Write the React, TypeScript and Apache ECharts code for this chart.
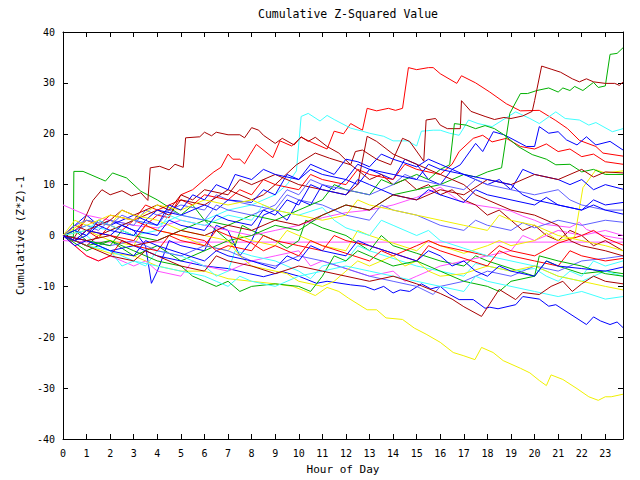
import React, { useEffect, useRef } from "react";
import * as echarts from "echarts";

const TITLE = "Cumulative Z-Squared Value";
const X_NAME = "Hour of Day";
const Y_NAME = "Cumulative (Z*Z)-1";

const RED = "#ff0000";
const GREEN = "#00b000";
const BLUE = "#0000ff";
const MAGENTA = "#ff50ff";
const CYAN = "#40ffff";
const DARKRED = "#a80000";
const YELLOW = "#f0f000";
const LIGHTBLUE = "#6060ff";

const redTop = [[0,0],[0.5,-1],[1,1],[1.5,-0.5],[2,2],[2.5,1],[3,3],[3.5,2],[4,4],[4.5,3.5],[5,8],[5.5,9],[6,11],[6.4,12.5],[6.7,13.4],[7.0,16],[7.2,15],[7.5,15],[7.7,14.1],[7.93,15.9],[8.2,17.9],[8.9,15.3],[9.2,18.6],[9.7,17.6],[10.1,19.3],[10.6,18.2],[11.2,17],[11.5,20.5],[11.9,20],[12.2,22],[12.7,20.7],[12.9,25],[13.3,24.5],[13.8,25],[14.1,24.6],[14.4,25],[14.65,33],[15.0,32.6],[15.5,33],[15.7,33],[16.0,31.8],[16.7,29.9],[16.9,31.4],[17.5,30],[18.1,28.2],[18.8,25.9],[19.4,24.5],[20.2,24.6],[20.9,22.6],[21.4,21],[21.9,18.7],[22.6,17.5],[22.9,16.2],[23.75,15.6]];
const darkRed1 = [[0,0],[0.4,-1],[0.8,2],[1.27,6.9],[1.65,9],[2,8],[2.5,8.8],[2.9,7.8],[3.3,8.4],[3.6,6.9],[3.7,13.3],[4.1,13.6],[4.5,12.9],[4.75,14],[5.1,13.4],[5.2,19.2],[5.8,19.4],[6.0,20.3],[6.3,19.6],[6.5,20.3],[7.0,19.8],[7.5,19.8],[7.7,19.2],[8.0,21.2],[8.3,20.7],[8.5,19.7],[9.0,18.1],[9.3,19.1],[9.8,17.8],[10.1,19.4],[10.4,18.5],[10.7,19.3],[11.2,17.5],[11.7,16.2],[12.2,13.9],[12.6,12.5],[13,11],[13.5,12],[14,10],[14.5,11],[15,9],[15.5,10],[16,8],[16.5,9],[17,7],[17.5,6],[18,4],[18.5,5],[19,3],[19.5,1],[20,2],[20.5,0],[21,-1],[21.5,1],[22,0],[22.5,-2],[23,-1],[23.75,-3]];
const darkRed2 = [[0,0],[0.5,-1],[1,-2],[1.5,0],[2,1],[3,3],[4,5],[4.5,4],[5,7],[6,6],[7,9],[8,7],[8.5,8],[9,10],[9.9,13.9],[10.7,16.2],[11.3,15.2],[12.2,13.9],[12.4,16.5],[12.7,16.8],[13.3,15],[13.9,13.9],[14.4,19.1],[14.7,18.5],[15.3,14.6],[15.4,22.7],[15.8,23],[16.0,21.7],[16.3,21],[16.85,21],[16.9,26.5],[17.3,24.4],[17.9,23.4],[18.3,22.8],[18.7,23.2],[19.0,23],[19.5,23.5],[19.9,24.4],[20.0,26.5],[20.3,33.3],[20.7,32.7],[21.1,32.1],[21.6,30.8],[21.9,30.2],[22.2,30.8],[22.5,30.2],[23,29.9],[23.4,29.9],[23.6,29.5],[23.75,30.2]];
const green2 = [[0,0],[1,-3],[2,-1],[3,-4],[4,-2],[5,-5],[6,-3],[7,-1],[8,0],[9,2],[10,1],[11,4],[12,6],[13,5],[14,8],[15,9],[16,10],[17,12],[17.5,11.5],[18,12.5],[18.6,13.3],[18.95,24],[19.4,27.9],[19.7,27.9],[20.1,28.5],[20.6,29],[21,28.2],[21.2,29],[21.5,28.5],[21.7,29.3],[22.05,28.5],[22.5,30.1],[22.7,29.1],[23.0,29.4],[23.2,35.6],[23.5,35.8],[23.75,36.9]];
const green3 = [[0,0],[0.5,1],[1,-1],[2,-2],[2.5,1],[3,0],[4,-1],[5,1],[6,3],[7,2],[8,4],[9,3],[10,5],[11,7],[11.5,10],[12,9],[13,8],[13.5,11],[14,10],[15,12],[15.5,11],[16,13],[16.4,13.9],[16.6,22],[17.1,21.7],[17.5,21],[17.9,21.6],[18.3,21],[18.7,19.8],[19.3,17.5],[19.9,15.9],[20.5,15],[20.9,13.9],[21.5,14],[22,12.5],[22.5,13],[23,12],[23.75,12]];
const green1 = [[0,0],[0.44,-0.3],[0.46,12.6],[0.85,12.6],[1.6,11.1],[1.8,10.7],[2.1,12.3],[2.7,11.3],[3.3,8.7],[4,7],[4.5,5.5],[5,4],[5.5,6],[6,3],[6.5,1],[7,-1],[7.3,-2],[7.6,2],[8,1],[9,-1],[9.5,-2.5],[10,-1],[10.3,3],[11,1.5],[12,0],[12.5,-1.5],[13,-3],[13.5,0],[14,-2],[15,-3.5],[16,-5],[17,-6],[17.5,-4],[18,-5],[19,-6.5],[20,-8],[20.5,-5],[21,-6],[22,-7.5],[23,-7],[23.75,-7.5]];
const green4 = [[0,0],[0.5,-1],[1,-2],[2,-1],[3,-3],[4,-5],[5,-6],[5.5,-8],[6,-9],[6.5,-10],[7,-9],[7.5,-11],[8,-10],[9,-9.5],[10,-10],[10.5,-11],[11,-8],[11.5,-4],[12,-5],[12.5,-3],[13,-4],[14,-6],[15,-5],[16,-7],[17,-9],[18,-10],[18.5,-11],[19,-9],[20,-8],[20.2,-4],[21,-5],[22,-6],[23,-7.5],[23.75,-8]];
const yellowBottom = [[0,0],[1,-2],[2,-3.5],[3,-4],[4,-6],[5,-7],[6,-7],[7,-8.5],[8,-9],[9,-9.5],[9.75,-10],[10.2,-10.8],[10.7,-11.8],[11.2,-10.2],[11.7,-11],[12.1,-12.3],[12.9,-14.6],[13.3,-14.6],[13.7,-16.2],[14.4,-16.5],[14.9,-18.2],[15.4,-19.4],[16.0,-21],[16.55,-23],[16.97,-23.6],[17.47,-24.4],[17.75,-22],[18.24,-23],[18.67,-24.6],[19.4,-26.1],[19.8,-27],[20.2,-28.5],[20.5,-29.5],[20.7,-27.4],[21.2,-28.3],[21.8,-30.1],[22.3,-31.7],[22.7,-32.4],[23.0,-31.7],[23.25,-31.7],[23.75,-31.2]];
const yellowRight = [[0,0],[1,1],[2,-1],[3,-2],[3.5,2],[4,1],[5,0],[6,-2],[7,-3],[7.5,0],[8,-1],[9,-2],[9.5,1],[10,0],[11,-2],[12,-3],[12.5,1],[13,0],[14,-1.5],[15,-3],[15.5,-1],[16,-2],[17,-3.5],[18,-2],[18.5,-1],[19,-2],[20,-1],[20.5,0.5],[21,-1],[21.7,-0.3],[22.05,9.4],[22.6,12.9],[23.0,12.3],[23.75,12.7]];
const yellowMid = [[0,0],[0.5,1.5],[1,3],[2,2],[2.5,5],[3,4],[4,3],[5,1],[6,0],[7,-1],[7.5,-4],[8,-6],[9,-7],[9.5,-7.5],[10,-9],[11,-10],[11.5,-9],[12,-7],[12.5,-5],[13,-6],[14,-4],[14.5,-6],[15,-5],[15.5,-7],[16,-8],[17,-7.5],[18,-6],[19,-7],[20,-6],[21,-8],[22,-9],[23,-10],[23.75,-10.7]];
const yellow4 = [[0,0],[0.5,3],[1,2],[2,4],[3,3],[4,6],[5,5],[6,7],[7,6],[8,7],[8.5,6],[9,5],[10,4],[11,3],[12,4],[12.5,7],[13,6],[14,5],[15,4],[16,3],[17,2],[18,1],[18.5,4],[19,3],[20,2],[21,0],[22,-1],[23,-2],[23.75,-3]];
const cyanTop = [[0,0],[1,2],[2,1],[3,3],[4,2],[5,4],[6,3],[7,5],[8,6],[9,8],[9.5,10],[9.9,12.7],[10.1,23.4],[10.4,24],[10.9,22.5],[11.2,23.6],[11.5,22.8],[12.2,21.1],[12.7,20.5],[13.0,20.1],[13.6,19.5],[14.0,18.6],[14.6,18.6],[15.0,17.6],[15.2,20.5],[15.7,20.7],[16.0,20.7],[16.4,20.1],[16.8,19.7],[17.2,22.7],[17.6,22],[18.2,21.4],[19.2,24.3],[19.8,23],[20.2,22],[20.9,24.3],[21.3,23],[21.9,22.7],[22.3,21.7],[22.6,22.2],[23.3,20.4],[23.75,21]];
const cyan2 = [[0,0],[0.5,1],[1,0],[1.5,-2],[2,-3],[3,-5],[3.5,-6],[4,-3],[5,-4],[6,-6],[6.5,-8],[7,-7],[7.3,-3],[8,-4],[9,-5],[10,-7],[10.5,-8.5],[11,-6],[12,-5],[12.5,-2],[13,-3],[14,-4.5],[15,-6],[16,-7],[17,-8],[17.5,-5.5],[18,-6],[19,-7],[20,-6.5],[20.5,-8],[21,-9],[21.5,-7],[22,-8],[22.5,-5],[23,-6],[23.75,-5]];
const cyan3 = [[0,0],[1,1],[1.5,3],[2,2],[3,0],[4,1],[4.5,4],[5,3],[6,2],[7,4],[8,3],[8.5,6],[9,5],[10,4],[11,5.5],[11.5,3],[12,1.5],[13,0],[13.5,3],[14,2],[15,0],[15.5,1],[16,-1],[17,-2.5],[18,-4],[19,-5],[20,-6],[21,-8],[22,-9],[23,-7],[23.75,-8]];
const cyan4 = [[0,0],[0.5,-1],[1,-2],[2,-3],[2.5,-6],[3,-5],[4,-6],[5,-7],[6,-8],[6.5,-9],[7,-10],[7.5,-8],[8,-9],[9,-10],[9.5,-9],[10,-8],[11,-7],[12,-6],[13,-7],[14,-8],[15,-9],[16,-10],[17,-11],[17.5,-8],[18,-9],[19,-10],[20,-11],[21,-12],[22,-11],[23,-12.5],[23.75,-12]];
const blueUp = [[0,0],[0.5,2],[1,4],[1.5,2],[2,3],[3,1],[3.5,-2],[3.75,-9.4],[4,-7],[4.5,-1],[5,-2],[6,-3],[6.5,2],[7,1],[7.5,-4],[8,-1],[8.5,4],[9,5],[9.5,3],[10,7],[10.5,6],[11,10],[11.5,9],[12,11],[12.5,10],[13,13],[13.5,12],[14,11],[14.5,15],[15,14],[15.5,11],[16,10],[16.5,13],[16.85,13.9],[17.5,18.1],[17.8,16.5],[18.25,20.4],[18.7,19.8],[19.0,19.1],[19.65,17.5],[20.0,17.5],[20.2,21.4],[20.6,20.1],[21.0,20.4],[21.35,18.8],[21.8,17.8],[22.2,19.4],[22.6,17.8],[23.2,18.5],[23.75,16.8]];
const blueBottom = [[0,0],[1,-1],[2,-3],[3,-2],[4,-4],[5,-5],[6,-6],[7,-6.5],[7.9,-7.5],[8.5,-8.1],[9.3,-7.1],[10,-8],[10.75,-9.4],[11.2,-9],[12.2,-9.7],[12.8,-10],[13.2,-10.7],[13.6,-10],[14.0,-11.3],[14.3,-10.7],[14.7,-11],[15.2,-9.5],[15.6,-10.5],[16,-10],[16.4,-11.6],[16.8,-12.6],[17.4,-12.6],[17.9,-14.3],[18.1,-14.1],[18.45,-14.4],[19.2,-13.6],[19.5,-12],[20.2,-12.5],[20.6,-13.9],[20.9,-13.6],[22.2,-17.5],[22.5,-16],[22.8,-16.8],[23.2,-17.5],[23.5,-17],[23.75,-18.1]];
const blue4 = [[0,0],[0.5,1],[1,0],[1.5,3],[2,2],[3,4],[3.5,3],[4,5],[5,4],[6,6],[6.5,5],[7,7],[8,6.5],[8.5,9],[9,8],[9.5,12],[10,11],[10.5,14],[11,13],[11.5,12],[12,15],[12.5,14.5],[13,13.5],[13.5,16],[14,15],[15,13.5],[15.5,15],[16,14],[17,12],[18,10],[18.5,11],[19,9],[19.5,13],[20,12],[21,11],[21.5,10],[22,11],[22.5,9],[23,10],[23.75,9.1]];
const blue5 = [[0,0],[0.5,-1],[1,1],[2,0],[2.5,2],[3,1],[4,0],[4.5,3],[5,2],[6,1],[6.5,4],[7,3],[8,2],[8.5,5],[9,4],[9.5,7],[10,6],[10.5,10],[11,9],[12,8],[12.5,11],[13,10],[14,8],[15,7],[15.5,9],[16,8],[17,6.5],[17.5,9],[18,8],[19,7],[20,6],[20.5,7.5],[21,6],[22,5],[22.5,6],[23,5],[23.75,4.2]];
const blue6 = [[0,0],[0.5,-2],[1,-1],[2,-3],[3,-4],[3.5,-1],[4,-2],[5,-3.5],[6,-5],[6.5,-3],[7,-4],[8,-5],[9,-6.5],[9.5,-4],[10,-5],[10.5,-2],[11,-3],[12,-4],[12.5,-1],[13,-2],[14,-3.5],[15,-5],[15.5,-3],[16,-4],[16.5,-6],[17,-5],[17.5,-7],[18,-8],[18.5,-6],[19,-7],[20,-8],[20.5,-5],[21,-6],[22,-6.5],[23,-7],[23.75,-6.2]];
const blue7 = [[0,0],[0.5,-1],[1,0],[1.5,2],[2,1],[3,0],[3.5,3],[4,2],[4.5,6],[5,5],[5.5,8],[6,7],[6.5,10],[7,9],[7.3,12],[8,11],[8.5,13],[9,12],[10,11],[10.5,13],[11,12],[12,11],[12.5,14],[13,13],[14,12],[15,11],[15.5,14],[16,13],[17,12],[18,11],[19,10],[19.5,8],[20,7],[21,6],[22,5],[22.5,7],[23,6],[23.75,6.5]];
const lightBlue1 = [[0,0],[0.5,1],[1,2],[1.5,1],[2,3],[3,2],[3.5,5],[4,4],[5,6],[6,5],[6.5,8],[7,7],[8,6],[9,5],[9.5,8],[10,7],[11,6],[12,4],[13,3],[13.5,6],[14,5],[15,4],[16,2],[17,1],[17.5,3],[18,2],[19,1],[19.5,2.5],[20,1.5],[21,3],[22,2],[23,3],[23.75,2.6]];
const lightBlue2 = [[0,0],[1,-1],[2,-2],[3,-1],[4,-3],[5,-4],[6,-2],[7,-3],[8,-5],[9,-6],[10,-4],[11,-5],[12,-6.5],[13,-8],[14,-9],[15,-10],[15.7,-11.6],[16,-10],[17,-9],[18,-7],[19,-8],[20,-6],[21,-7],[22,-5],[23,-4.5],[23.75,-4]];
const lightBlue3 = [[0,0],[0.5,2],[1,3],[2,2],[2.5,4],[3,3],[4,2],[4.5,5],[5,4],[6,3],[6.5,6],[7,5],[8,4],[9,6],[9.5,9],[10,8],[10.5,11],[11,10],[12,9],[13,8],[14,10],[14.5,12],[15,11],[16,10],[17,9],[17.5,11],[18,10],[19,9],[20,8],[21,9],[21.5,7],[22,6],[23,5],[23.75,5]];
const magentaHigh = [[0,6],[0.5,5],[1,4],[2,3],[3,2],[4,1.5],[5,3],[6,2],[7,1],[8,0],[9,1],[10,2],[11,3.5],[12,4.5],[13,5],[14,6],[15,7.5],[16,9.5],[16.8,6.8],[17.5,6],[18.5,5.3],[19,4.8],[19.5,3.8],[20,3],[20.4,2.2],[21.5,1.6],[21.9,2.6],[22.2,1.2],[22.9,0],[23.75,-0.7]];
const magentaFlat = [[0,-1],[1.2,-1.3],[23.75,-1.3]];
const magenta3 = [[0,0],[0.5,-2],[1,-4],[1.5,-5],[2,-4],[3,-6],[3.5,-5],[4,-7],[5,-8],[5.5,-5],[6,-6],[7,-7],[8,-5],[9,-4],[10,-3],[10.5,-6],[11,-5],[12,-6.5],[13,-8],[14,-7],[14.5,-9],[15,-8],[16,-6],[17,-5],[18,-4],[19,-3],[19.5,0],[20,-1],[21,1],[22,0],[23,1],[23.75,0]];
const red3 = [[0,0],[0.5,-2],[1,-4],[1.5,-5],[2,-4],[2.5,-1],[3,-2],[4,-3],[4.5,0],[5,-1],[6,-2],[6.5,1],[7,0],[8,-1.5],[8.5,-3],[9,-2],[10,-4],[10.5,-1],[11,-2],[12,-3.5],[13,-5],[13.5,-3],[14,-4],[15,-2],[15.5,-1],[16,-2],[17,-3],[18,-4],[18.5,-2],[19,-3],[20,-4],[21,-1.5],[22,0],[22.5,1],[23,-0.5],[23.75,-1.9]];
const redMid = [[0,0],[0.5,1],[1,3],[1.5,2],[2,4],[3,3],[3.5,6],[4,5],[5,7],[5.5,6],[6,8],[7,7],[7.5,9],[8,8],[8.5,11],[9,10],[10,9],[10.5,12],[11,11],[12,10],[12.5,13],[13,12],[14,11],[14.5,14],[15,13],[16,12],[16.5,14],[16.8,16.5],[17.4,19.1],[17.8,19.7],[18.2,18.4],[18.8,19.1],[19.4,17.5],[20,17],[20.5,18],[21,16.5],[21.5,17],[22,15.5],[22.5,16],[23,14.5],[23.75,14]];
const red4 = [[0,0],[0.5,-1],[1,1],[2,0],[3,-1],[3.5,2],[4,1],[5,0],[6,-1],[6.5,-3],[7,-2],[8,-3],[8.5,0],[9,-1],[10,-2],[11,-3],[11.5,0],[12,-1],[13,-2],[14,-3.5],[15,-5],[15.5,-2],[16,-3],[17,-4.5],[18,-6],[18.5,-3],[19,-4],[20,-5],[21,-6],[21.5,-3],[22,-4],[23,-5],[23.75,-4.5]];
const darkRed3 = [[0,0],[0.5,2],[1,1],[2,3],[2.5,5],[3,4],[4,6],[4.5,5],[5,8],[5.5,7],[6,9],[7,8],[7.5,11],[8,10],[9,12],[9.5,11],[10,10],[11,9],[12,8],[12.5,10],[12.9,19.5],[13.3,18.5],[14,16],[15,14],[16,12],[17,10],[17.5,8],[18,7],[19,5],[20,4],[21,2],[21.5,-1],[22,-2],[23,-3],[23.75,-4]];
const darkRed4 = [[0,0],[0.5,-1],[1,-2],[2,-4],[3,-5],[3.5,-3],[4,-4],[5,-6],[6,-7],[6.5,-4],[7,-5],[8,-6],[9,-7.5],[10,-6],[11,-7],[12,-8],[13,-9],[14,-8],[15,-9.5],[16,-11.4],[16.5,-12.5],[17,-14],[17.75,-15.9],[18.5,-10.6],[19.2,-12.6],[19.5,-11.2],[20.2,-11.6],[20.7,-10],[21.2,-9],[21.6,-11],[22,-9.5],[22.5,-8],[23,-9],[23.75,-9.5]];
const darkRed5 = [[0,0],[1,-1],[2,0],[3,-2],[4,-1],[5,1],[6,0],[7,2],[8,1],[9,3],[10,2],[11,4],[12,6],[13,5],[14,8],[15,7],[16,9],[17,8],[18,11],[19,10],[20,12],[21,11],[22,13],[22.5,11.5],[23,12.5],[23.75,12.3]];

const SERIES: [any[], string][] = [
  [magentaFlat, MAGENTA],
  [redTop, RED], [green1, GREEN], [blueUp, BLUE], [magentaHigh, MAGENTA], [cyanTop, CYAN], [darkRed1, DARKRED], [yellowBottom, YELLOW], [lightBlue1, LIGHTBLUE],
  [redMid, RED], [green2, GREEN], [blueBottom, BLUE], [magenta3, MAGENTA], [cyan2, CYAN], [darkRed2, DARKRED], [yellowRight, YELLOW], [lightBlue2, LIGHTBLUE],
  [red3, RED], [green3, GREEN], [blue4, BLUE], [cyan3, CYAN], [darkRed3, DARKRED], [yellowMid, YELLOW], [lightBlue3, LIGHTBLUE],
  [red4, RED], [green4, GREEN], [blue5, BLUE], [cyan4, CYAN], [darkRed4, DARKRED], [yellow4, YELLOW], [blue6, BLUE], [darkRed5, DARKRED], [blue7, BLUE],
];

const FONT = "DejaVu Sans Mono";

export default function App() {
  const ref = useRef<HTMLDivElement>(null);
  useEffect(() => {
    const chart = echarts.init(ref.current!, null, { renderer: "svg" });
    const axisCommon = {
      axisLine: { show: true, onZero: false, lineStyle: { color: "#000", width: 1 } },
      axisTick: { show: true, inside: true, length: 5, lineStyle: { color: "#000" } },
      splitLine: { show: false },
    };
    const xBase = {
      type: "value", min: 0, max: 23.75, interval: 1, ...axisCommon,
    };
    const yBase = {
      type: "value", min: -40, max: 40, interval: 10, ...axisCommon,
    };
    chart.setOption({
      animation: false,
      backgroundColor: "#fff",
      title: {
        text: TITLE, left: 343, textAlign: "center", top: 3,
        textStyle: { fontFamily: FONT, fontSize: 11.5, fontWeight: "normal", color: "#000" },
      },
      grid: { left: 63, right: 17, top: 32, bottom: 36, containLabel: false },
      xAxis: [
        {
          ...xBase, position: "bottom",
          name: X_NAME, nameLocation: "middle", nameGap: 25,
          nameTextStyle: { fontFamily: FONT, fontSize: 11, color: "#000" },
          axisLabel: {
            show: true, margin: 9, fontFamily: FONT, fontSize: 10, color: "#000",
            showMaxLabel: false,
            formatter: (v: number) => (Number.isInteger(v) ? String(v) : ""),
          },
        },
        { ...xBase, position: "top", axisLabel: { show: false } },
      ],
      yAxis: [
        {
          ...yBase, position: "left",
          name: Y_NAME, nameLocation: "middle", nameGap: 36, nameRotate: 90,
          nameTextStyle: { fontFamily: FONT, fontSize: 11, color: "#000" },
          axisLabel: { show: true, margin: 8, fontFamily: FONT, fontSize: 10, color: "#000" },
        },
        { ...yBase, position: "right", axisLabel: { show: false } },
      ],
      series: SERIES.map(([data, color], i) => ({
        type: "line",
        name: "s" + i,
        data,
        showSymbol: false,
        symbol: "none",
        silent: true,
        lineStyle: { width: 1, color },
        itemStyle: { color },
        z: 2,
      })),
    });
    return () => chart.dispose();
  }, []);
  return (
    <div
      ref={ref}
      style={{ position: "absolute", left: 0, top: 0, width: 640, height: 480 }}
    />
  );
}
